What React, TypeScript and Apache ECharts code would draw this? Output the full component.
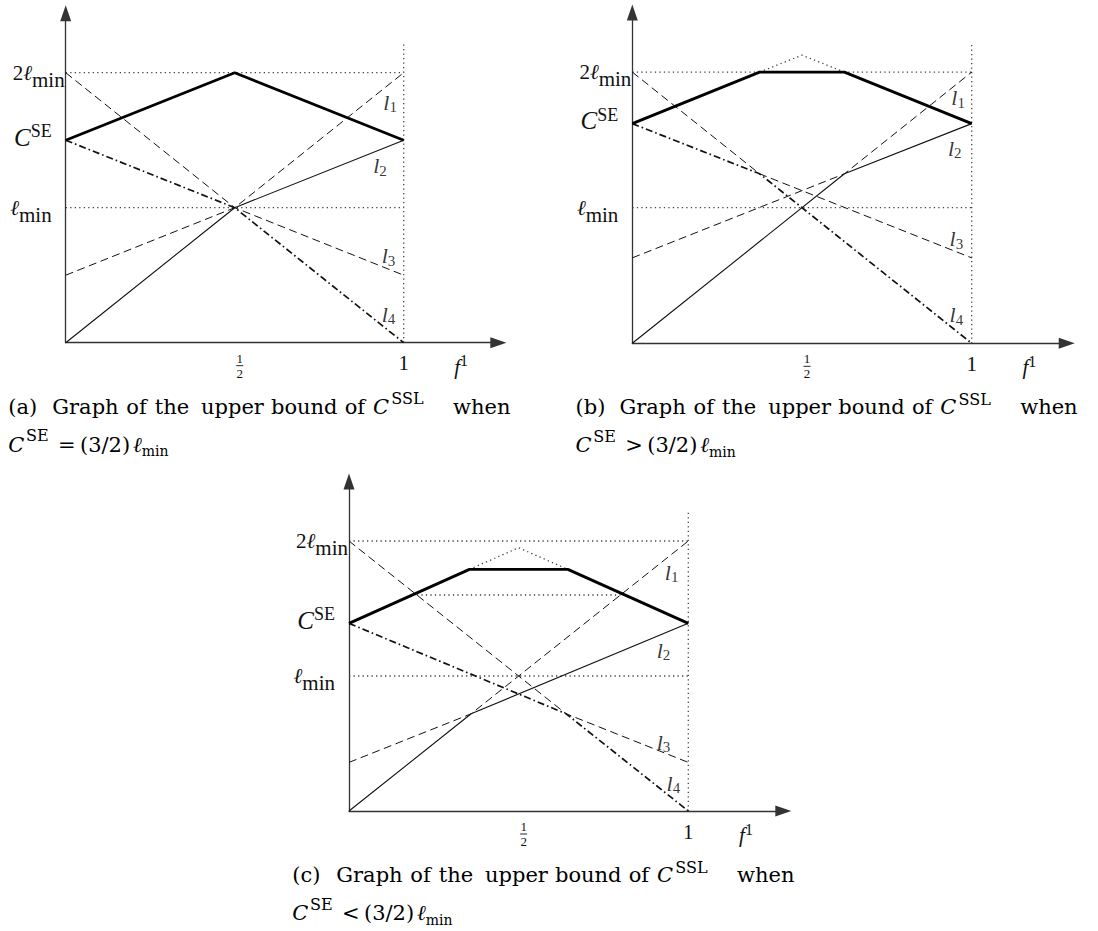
import React, { useEffect, useRef } from "react";
import * as echarts from "echarts";

const SERIF = '"Liberation Serif", "DejaVu Serif", serif';
const CAP_FONT = '"DejaVu Serif", "Liberation Serif", serif';

// All values are in units of ℓmin (y) against f¹ (x).
// Panel (a): C^SE = (3/2)ℓmin
const A_CSE = 1.5;
const A_UPPER = [[0, 1.5], [0.5, 2], [1, 1.5]];
const A_L1 = [[0, 0.5], [0.5, 1], [1, 2]];
const A_L2 = [[0, 0], [0.5, 1], [1, 1.5]];
const A_L3 = [[0, 2], [0.5, 1], [1, 0.5]];
const A_L4 = [[0, 1.5], [0.5, 1], [1, 0]];
const A_PEAK: number[][] = [];
const A_EXTRA: number[][] = [];
const A_LABELS = [[0.96, 1.78], [0.93, 1.31], [0.955, 0.645], [0.955, 0.21]];

// Panel (b): C^SE > (3/2)ℓmin
const B_CSE = 1.62;
const B_UPPER = [[0, 1.62], [0.375, 2], [0.625, 2], [1, 1.62]];
const B_L1 = [[0, 0.63], [0.625, 1.25], [1, 2]];
const B_L2 = [[0, 0], [0.625, 1.25], [1, 1.62]];
const B_L3 = [[0, 2], [0.375, 1.25], [1, 0.63]];
const B_L4 = [[0, 1.62], [0.375, 1.25], [1, 0]];
const B_PEAK = [[0.375, 2], [0.5, 2.125], [0.625, 2]];
const B_EXTRA: number[][] = [];
const B_LABELS = [[0.96, 1.81], [0.95, 1.44], [0.955, 0.77], [0.955, 0.21]];

// Panel (c): C^SE < (3/2)ℓmin
const C_CSE = 1.39;
const C_UPPER = [[0, 1.39], [0.355, 1.79], [0.645, 1.79], [1, 1.39]];
const C_L1 = [[0, 0.36], [0.36, 0.72], [1, 2]];
const C_L2 = [[0, 0], [0.36, 0.72], [1, 1.39]];
const C_L3 = [[0, 2], [0.64, 0.72], [1, 0.36]];
const C_L4 = [[0, 1.39], [0.64, 0.72], [1, 0]];
const C_PEAK = [[0.355, 1.79], [0.5, 1.95], [0.645, 1.79]];
const C_EXTRA = [[0.2, 1.6], [0.8, 1.6]];
const C_LABELS = [[0.951, 1.77], [0.927, 1.19], [0.927, 0.51], [0.956, 0.205]];

const LEVELS = [1, 2]; // ℓmin and 2ℓmin
const GUIDE_TOP = 2.21; // top of the dotted vertical at f¹ = 1
const X_TICKS = [0.5, 1];
const X_NAME_AT = 1.17;
const LINE_NAMES = ["1", "2", "3", "4"];

const CAP_WORDS = ["Graph", "of", "the", "upper", "bound", "of"];

const PANELS = [
  { id: "a", cse: A_CSE, upper: A_UPPER, l1: A_L1, l2: A_L2, l3: A_L3, l4: A_L4, peak: A_PEAK, extra: A_EXTRA, labels: A_LABELS, rel: "=" },
  { id: "b", cse: B_CSE, upper: B_UPPER, l1: B_L1, l2: B_L2, l3: B_L3, l4: B_L4, peak: B_PEAK, extra: B_EXTRA, labels: B_LABELS, rel: ">" },
  { id: "c", cse: C_CSE, upper: C_UPPER, l1: C_L1, l2: C_L2, l3: C_L3, l4: C_L4, peak: C_PEAK, extra: C_EXTRA, labels: C_LABELS, rel: "<" },
];

// layout (pixels)
const GEOM = [
  { left: 65.7, originY: 342.7, ux: 338, uy: 135, capX: 8.3 },
  { left: 632.3, originY: 343.3, ux: 339.4, uy: 135.6, capX: 575.5 },
  { left: 349, originY: 811, ux: 339.3, uy: 135, capX: 292.3 },
];
const XMAX = 1.28;
const YMAX = 2.44;
// caption word slots (pixels from caption left): "(x)", Graph, of, the, upper, bound, of, C, SSL
const CAP_SLOTS = [44, 74, 28.4, 46.3, 70, 73.7, 28.3, 18.3, 61.7];
// second caption line slots: C, SE, relation, (3/2)
const CAP2_SLOTS = [17.7, 32, 22, 53];

const INK = "#111";
const CAP_INK = "#1a1a1a";
const DOT = { color: "#444", width: 1.3, type: [1.3, 3.2] as any };

const rich: any = {
  n: { fontFamily: SERIF, fontSize: 21, color: INK },
  it: { fontFamily: SERIF, fontSize: 21, fontStyle: "italic", color: INK },
  bigC: { fontFamily: SERIF, fontSize: 25, fontStyle: "italic", color: INK, padding: [0, 0, 6, 0] },
  sub: { fontFamily: SERIF, fontSize: 21, color: INK, padding: [14, 0, 0, 0] },
  sup: { fontFamily: SERIF, fontSize: 18, color: INK, padding: [0, 0, 18, 0] },
  sp: { width: 13, fontSize: 10 },
  gap: { width: 10, fontSize: 1, lineHeight: 4 },
  fn: { fontFamily: SERIF, fontSize: 13, color: INK, lineHeight: 11, padding: [0, 0, 0, 10] },
  bar: { width: 7, height: 0.9, lineHeight: 4, backgroundColor: INK, fontSize: 1 },
  fd: { fontFamily: SERIF, fontSize: 13, color: INK, lineHeight: 11, padding: [0, 0, 0, 10] },
  fi: { fontFamily: SERIF, fontSize: 21, fontStyle: "italic", color: INK },
  fs: { fontFamily: SERIF, fontSize: 16, color: INK, padding: [0, 0, 12, 0] },
  li: { fontFamily: SERIF, fontSize: 22, fontStyle: "italic", color: "#000" },
  ls: { fontFamily: SERIF, fontSize: 15, color: "#000", padding: [10, 0, 0, 0] },
};

const CAP_FS = 21;
const capRich: any = {
  t: { fontFamily: CAP_FONT, fontSize: CAP_FS, color: CAP_INK },
  sub: { fontFamily: CAP_FONT, fontSize: 14, color: CAP_INK, padding: [13.5, 0, 0, 0] },
};
CAP_SLOTS.forEach((w, k) => {
  capRich[`w${k}`] = { fontFamily: CAP_FONT, fontSize: CAP_FS, color: CAP_INK, width: w };
});
capRich.cw = { fontFamily: CAP_FONT, fontSize: CAP_FS, fontStyle: "italic", color: CAP_INK, width: CAP_SLOTS[7] };
capRich.sw = { fontFamily: CAP_FONT, fontSize: 16, color: CAP_INK, width: CAP_SLOTS[8], padding: [0, 0, 16, 0] };
capRich.c2 = { fontFamily: CAP_FONT, fontSize: CAP_FS, fontStyle: "italic", color: CAP_INK, width: CAP2_SLOTS[0] };
capRich.s2 = { fontFamily: CAP_FONT, fontSize: 16, color: CAP_INK, width: CAP2_SLOTS[1], padding: [0, 0, 18, 0] };
capRich.r2 = { fontFamily: CAP_FONT, fontSize: CAP_FS, color: CAP_INK, width: CAP2_SLOTS[2] };
capRich.f2 = { fontFamily: CAP_FONT, fontSize: CAP_FS, color: CAP_INK, width: CAP2_SLOTS[3] };
capRich.e2 = { fontFamily: CAP_FONT, fontSize: CAP_FS, fontStyle: "italic", color: CAP_INK };

function caption1(id: string) {
  const words = [`(${id})`, ...CAP_WORDS];
  return words.map((w, k) => `{w${k}|${w}}`).join("") + "{cw|C}{sw|SSL}{t|when}";
}
function caption2(rel: string) {
  return `{c2|C}{s2|SE}{r2|${rel}}{f2|(3/2)}{e2|ℓ}{sub|min}`;
}

function buildOption() {
  const grid: any[] = [];
  const xAxis: any[] = [];
  const yAxis: any[] = [];
  const series: any[] = [];
  const graphic: any[] = [];

  PANELS.forEach((p, i) => {
    const g = GEOM[i];
    grid.push({
      left: g.left,
      top: g.originY - YMAX * g.uy,
      width: XMAX * g.ux,
      height: YMAX * g.uy,
      outerBoundsMode: "none",
      containLabel: false,
    });
    const axisLine = {
      show: true,
      symbol: ["none", "triangle"],
      symbolSize: [11, 16],
      lineStyle: { color: "#333", width: 1.3 },
    };
    xAxis.push({
      gridIndex: i,
      type: "value",
      min: 0,
      max: XMAX,
      axisLine,
      axisTick: { show: false },
      splitLine: { show: false },
      axisLabel: {
        customValues: [...X_TICKS, X_NAME_AT],
        margin: 10,
        rich,
        formatter: (v: number) =>
          v === 0.5 ? "{fn|1}\n{gap| }{bar| }\n{fd|2}" : v === 1 ? "{n|1}" : "{fi|f}{fs|1}",
      },
    });
    yAxis.push({
      gridIndex: i,
      type: "value",
      min: 0,
      max: YMAX,
      axisLine,
      axisTick: { show: false },
      splitLine: { show: false },
      axisLabel: {
        customValues: [LEVELS[0], p.cse, LEVELS[1]],
        margin: 1,
        rich,
        formatter: (v: number) =>
          v === 2 ? "{n|2}{it|ℓ}{sub|min}" : v === 1 ? "{it|ℓ}{sub|min}{sp| }" : "{bigC|C}{sup|SE}{sp| }",
      },
    });

    const base = { xAxisIndex: i, yAxisIndex: i, type: "line", symbol: "none", silent: true };
    // dotted guides
    series.push({ ...base, name: `${p.id}-2lmin`, data: [[0, LEVELS[1]], [1, LEVELS[1]]], lineStyle: DOT });
    series.push({ ...base, name: `${p.id}-lmin`, data: [[0, LEVELS[0]], [1, LEVELS[0]]], lineStyle: DOT });
    series.push({ ...base, name: `${p.id}-f1`, data: [[1, 0], [1, GUIDE_TOP]], lineStyle: DOT });
    if (p.peak.length) series.push({ ...base, name: `${p.id}-peak`, data: p.peak, lineStyle: DOT });
    if (p.extra.length) series.push({ ...base, name: `${p.id}-extra`, data: p.extra, lineStyle: DOT });
    // l1, l3 dashed
    series.push({ ...base, name: `${p.id}-l1`, data: p.l1, lineStyle: { color: INK, width: 1, type: [8, 4.5] } });
    series.push({ ...base, name: `${p.id}-l3`, data: p.l3, lineStyle: { color: INK, width: 1, type: [8, 4.5] } });
    // l2 solid
    series.push({ ...base, name: `${p.id}-l2`, data: p.l2, lineStyle: { color: INK, width: 1.1 } });
    // l4 dash-dot
    series.push({ ...base, name: `${p.id}-l4`, data: p.l4, lineStyle: { color: INK, width: 1.7, type: [7, 3, 1.6, 3] } });
    // upper bound (thick)
    series.push({ ...base, name: `${p.id}-upper`, data: p.upper, lineStyle: { color: "#000", width: 2.8 }, z: 5 });
    // line labels
    series.push({
      xAxisIndex: i,
      yAxisIndex: i,
      type: "scatter",
      name: `${p.id}-labels`,
      symbolSize: 1,
      itemStyle: { color: "rgba(0,0,0,0)" },
      silent: true,
      data: p.labels.map((xy, k) => ({ value: xy, name: LINE_NAMES[k] })),
      label: {
        show: true,
        position: "inside",
        color: "#000",
        textBorderWidth: 0,
        textBorderColor: "transparent",
        rich,
        formatter: (d: any) => `{li|l}{ls|${d.name}}`,
      },
    });

    // caption
    graphic.push({
      type: "text",
      left: g.capX,
      top: g.originY + 48,
      style: { text: caption1(p.id), rich: capRich },
    });
    graphic.push({
      type: "text",
      left: g.capX,
      top: g.originY + 85,
      style: { text: caption2(p.rel), rich: capRich },
    });
  });

  return { animation: false, backgroundColor: "#fff", grid, xAxis, yAxis, series, graphic };
}

export default function App() {
  const ref = useRef<HTMLDivElement>(null);
  useEffect(() => {
    if (!ref.current) return;
    const chart = echarts.init(ref.current, undefined, { renderer: "svg" });
    chart.setOption(buildOption() as any);
    return () => chart.dispose();
  }, []);
  return (
    <div
      ref={ref}
      style={{ position: "fixed", left: 0, top: 0, width: 1098, height: 931, background: "#fff" }}
    />
  );
}
